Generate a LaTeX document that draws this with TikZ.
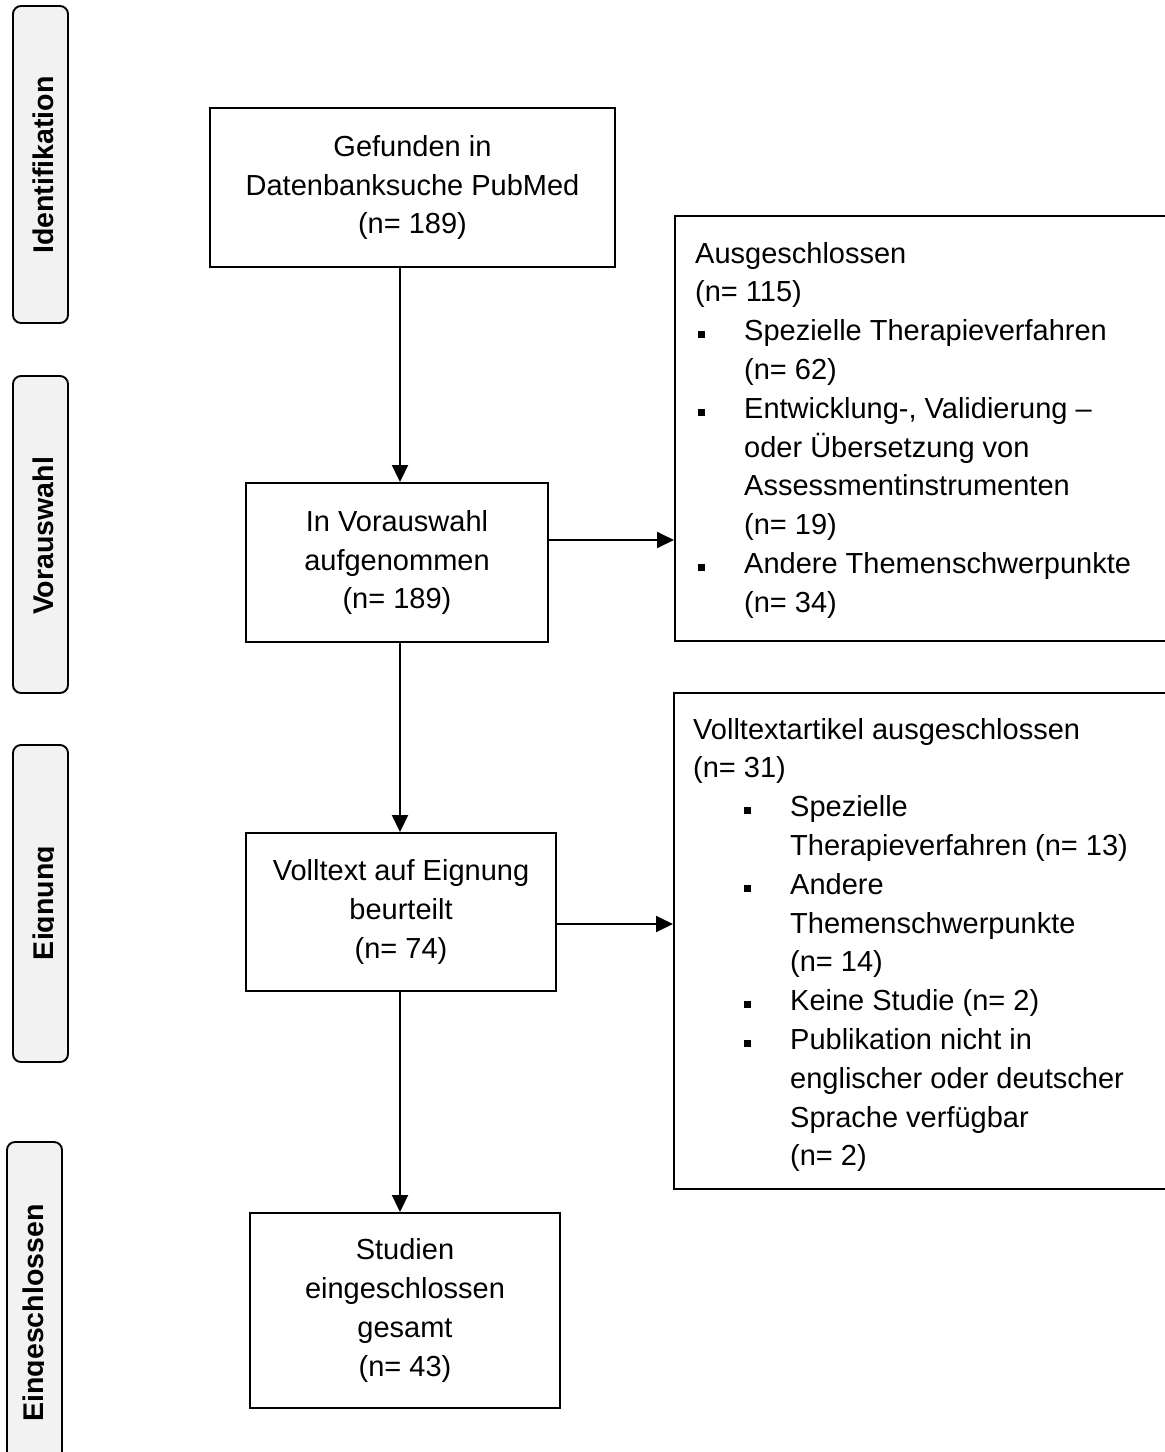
\documentclass[tikz,border=0pt]{standalone}
\usepackage{fontspec}
\setmainfont{Liberation Sans}
\usetikzlibrary{arrows.meta}

\definecolor{phasefill}{HTML}{F2F2F2}

% bullet square and line offsets for the two exclusion lists
\newcommand\bsq{\raisebox{2.5pt}{\rule{7pt}{7pt}}}
\newcommand\bulA{\hspace*{3pt}\rlap{\bsq}\hspace*{46pt}}
\newcommand\contA{\hspace*{49pt}}
\newcommand\bulB{\hspace*{51pt}\rlap{\bsq}\hspace*{46pt}}
\newcommand\contB{\hspace*{97pt}}

\begin{document}
\begin{tikzpicture}[x=1pt,y=-1pt,
  font=\fontsize{29}{38.8}\selectfont,
  box/.style={draw=black, line width=1.9pt, rectangle, inner sep=0pt,
    align=center, fill=white},
  phase/.style={draw=black, line width=1.9pt, rectangle, rounded corners=8pt,
    fill=phasefill, inner sep=0pt, minimum width=55pt},
  phasetext/.style={rotate=90, anchor=base, inner sep=0pt,
    font=\fontsize{28.5}{34}\selectfont\bfseries},
  listline/.style={anchor=base west, inner sep=0pt},
  arr/.style={line width=1.9pt, -{Triangle[length=17pt,width=16pt]}}]

\useasboundingbox (0,0) rectangle (1165,1452);
\clip (0,0) rectangle (1165,1452);

% ---- phase bars on the left ----
\node[phase, minimum height=317pt] (p1) at (40.5,164.5) {};
\node[phase, minimum height=317pt] (p2) at (40.5,534.5) {};
\node[phase, minimum height=317pt] (p3) at (40.5,903.5) {};
\node[phase, minimum height=330pt] (p4) at (34.5,1307) {};

\begin{scope}
  \clip (13,6) rectangle (53,323);
  \node[phasetext] (t1) at (53,165) {Identifikation};
\end{scope}
\begin{scope}
  \clip (13,376) rectangle (53,693);
  \node[phasetext] (t2) at (53,536) {Vorauswahl};
\end{scope}
\begin{scope}
  \clip (13,745) rectangle (53,1062);
  \node[phasetext] (t3) at (53,903) {Eignung};
\end{scope}
\begin{scope}
  \clip (7,1142) rectangle (43.5,1452);
  \node[phasetext] (t4) at (43.5,1313) {Eingeschlossen};
\end{scope}

% ---- main flow ----
\node[box, minimum width=405pt, minimum height=159pt] (b1) at (412.5,187.5)
  {Gefunden in\\Datenbanksuche PubMed\\(n= 189)};
\node[box, minimum width=302pt, minimum height=159pt] (b2) at (397,562.5)
  {In Vorauswahl\\aufgenommen\\(n= 189)};
\node[box, minimum width=310pt, minimum height=158pt] (b3) at (401,912)
  {Volltext auf Eignung\\beurteilt\\(n= 74)};
\node[box, minimum width=310pt, minimum height=195pt] (b4) at (405,1310.5)
  {Studien\\eingeschlossen\\gesamt\\(n= 43)};

% ---- exclusion boxes (open beyond the right edge) ----
\node[box, anchor=north west, minimum width=560pt, minimum height=425pt] (x1)
  at (674,215) {};
\node[box, anchor=north west, minimum width=560pt, minimum height=496pt] (x2)
  at (673,692) {};

\foreach \t [count=\i from 0] in {
  {Ausgeschlossen},
  {(n= 115)},
  {\bulA Spezielle Therapieverfahren},
  {\contA (n= 62)},
  {\bulA Entwicklung-, Validierung –},
  {\contA oder Übersetzung von},
  {\contA Assessmentinstrumenten},
  {\contA (n= 19)},
  {\bulA Andere Themenschwerpunkte},
  {\contA (n= 34)}}
  \node[listline] (xa\i) at (695,{263+38.8*\i}) {\t};

\foreach \t [count=\i from 0] in {
  {Volltextartikel ausgeschlossen},
  {(n= 31)},
  {\bulB Spezielle},
  {\contB Therapieverfahren (n= 13)},
  {\bulB Andere},
  {\contB Themenschwerpunkte},
  {\contB (n= 14)},
  {\bulB Keine Studie (n= 2)},
  {\bulB Publikation nicht in},
  {\contB englischer oder deutscher},
  {\contB Sprache verfügbar},
  {\contB (n= 2)}}
  \node[listline] (xb\i) at (693,{739+38.8*\i}) {\t};

% ---- connectors ----
\coordinate (col) at (400,0);
\coordinate (r1) at (0,540);
\coordinate (r2) at (0,924);

\draw[arr] (b1.south -| col) -- (b2.north -| col);
\draw[arr] (b2.south -| col) -- (b3.north -| col);
\draw[arr] (b3.south -| col) -- (b4.north -| col);
\draw[arr] (b2.east |- r1) -- (x1.west |- r1);
\draw[arr] (b3.east |- r2) -- (x2.west |- r2);

\end{tikzpicture}
\end{document}
